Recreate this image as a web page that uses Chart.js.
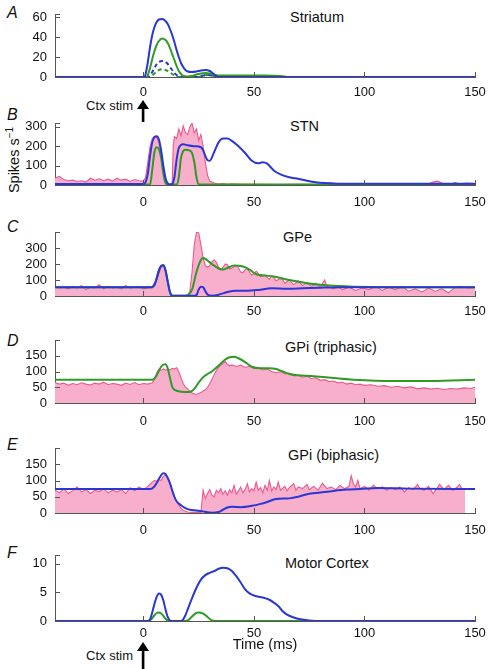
<!DOCTYPE html>
<html>
<head>
<meta charset="utf-8">
<script src="https://cdn.jsdelivr.net/npm/chart.js@4.4.0/dist/chart.umd.min.js"></script>
<style>
  body { margin: 0; background: #fff; }
  #page { position: relative; width: 488px; height: 669px; overflow: hidden;
          font-family: "Liberation Sans", Arial, sans-serif; color: #111; }
  #page canvas { position: absolute; left: 0; }
  .lbl { position: absolute; white-space: nowrap; line-height: 1; }
  .letter { font-size: 16px; font-style: italic; left: 7px; }
  .title { font-size: 14.5px; }
  .stim { font-size: 13px; text-align: right; width: 60px; left: 73px; }
  .ylab { font-size: 14.5px; transform: translate(-50%, -50%) rotate(-90deg); left: 13px; top: 160px; }
  svg { position: absolute; }
</style>
</head>
<body>
<div id="page">
  <div class="lbl letter" style="top:5px">A</div>
  <div class="lbl letter" style="top:107px">B</div>
  <div class="lbl letter" style="top:219px">C</div>
  <div class="lbl letter" style="top:333px">D</div>
  <div class="lbl letter" style="top:437px">E</div>
  <div class="lbl letter" style="top:545px">F</div>

  <div class="lbl title" style="left:290px;top:10px">Striatum</div>
  <div class="lbl title" style="left:290px;top:119px">STN</div>
  <div class="lbl title" style="left:283px;top:230px">GPe</div>
  <div class="lbl title" style="left:285px;top:340px">GPi (triphasic)</div>
  <div class="lbl title" style="left:288px;top:448px">GPi (biphasic)</div>
  <div class="lbl title" style="left:285px;top:556px">Motor Cortex</div>

  <div class="lbl ylab">Spikes s<sup style="font-size:10px">−1</sup></div>

  <div class="lbl stim" style="top:99px">Ctx stim</div>
  <svg style="left:136px;top:100px" width="14" height="22">
    <polygon points="7,0 1,9 13,9" fill="#000"/>
    <rect x="5.8" y="8" width="2.6" height="14" fill="#000"/>
  </svg>
  <div class="lbl stim" style="top:649px">Ctx stim</div>
  <svg style="left:136px;top:642px" width="14" height="27">
    <polygon points="7,0 1,9 13,9" fill="#000"/>
    <rect x="5.8" y="8" width="2.6" height="19" fill="#000"/>
  </svg>
</div>

<script>
// time axis
const timeTicks = [0, 50, 100, 150];

// A  Striatum
const strYTicks = [0, 20, 40, 60];
const strBlueT = [-40, 0.5, 1, 2, 3, 4, 5, 6, 7, 8.5, 10, 11, 12, 13, 14, 15, 16, 17, 18, 19, 20, 22, 24, 26, 28, 30, 31, 32, 33, 34, 150];
const strBlueV = [0, 0, 3, 15, 30, 42, 50, 55, 57.5, 58, 56, 53, 48, 42, 35, 27, 20, 14, 10, 7, 5.5, 5, 5.5, 6.5, 7, 6, 4.5, 2.5, 1, 0, 0];
const strGreenT = [-40, 1.5, 2, 3, 4, 5, 6, 7, 8.5, 10, 11, 12, 13, 14, 15, 16, 17, 18, 20, 22, 24, 26, 28, 30, 32, 34, 36, 45, 55, 62, 66, 150];
const strGreenV = [0, 0, 2, 9, 18, 26, 32, 36, 38.5, 37, 34, 29, 23, 17, 11, 6, 3, 1, 0.5, 1, 2.5, 3.5, 4, 3.5, 2.5, 1.5, 1.5, 1.5, 1.5, 1, 0, 0];
const strBlueDashT = [-40, 2, 3, 4, 5, 6, 7, 8.5, 10, 11, 12, 13, 14, 15, 16.5, 25, 27, 29, 31, 33, 150];
const strBlueDashV = [0, 0, 1.5, 5, 9, 13, 15, 16, 15, 13, 10, 7, 4, 2, 0, 0, 1.5, 2, 1.5, 0, 0];
const strGreenDashT = [-40, 2.5, 3.5, 5, 6, 7, 8.5, 10, 11, 12, 13, 14, 15, 25, 27, 29, 31, 33, 150];
const strGreenDashV = [0, 0, 1, 3.5, 5.5, 7, 7.7, 7, 6, 4.5, 3, 1.5, 0, 0, 1.5, 2, 1.5, 0, 0];

// B  STN
const stnYTicks = [0, 100, 200, 300];
const stnBlueT = [-40, 0, 1, 2, 3, 4, 5, 6, 7, 8, 9, 10, 11, 12, 13, 14, 15, 16, 18, 20, 23, 26, 27, 28, 29, 30, 32, 34, 36, 38, 40, 43, 46, 49, 52, 54, 56, 59, 62, 66, 70, 74, 78, 82, 88, 95, 150];
const stnBlueV = [5, 5, 15, 60, 150, 220, 248, 252, 235, 180, 100, 35, 8, 3, 5, 40, 130, 190, 210, 205, 200, 195, 180, 150, 128, 125, 170, 220, 240, 240, 228, 200, 165, 125, 112, 118, 110, 75, 55, 40, 32, 22, 14, 10, 7, 6, 6];
const stnGreenT = [-40, 3, 4, 5, 6, 7, 8, 9, 10, 11, 15, 16, 17, 18, 19, 21, 22, 23, 24, 25, 150];
const stnGreenV = [2, 2, 80, 170, 195, 185, 140, 60, 10, 2, 2, 40, 140, 175, 182, 178, 165, 120, 40, 3, 3];
const stnPinkT = [-40, -38, -36, -34, -32, -30, -28, -26, -24, -22, -20, -18, -16, -14, -12, -10, -8, -6, -4, -2, 0,
  1, 2, 3, 4, 5, 6, 7, 8, 9, 10, 11, 12, 13, 13.5, 14, 15, 16, 17, 18, 19, 20, 21, 22, 23, 24, 25, 26, 27, 28, 29, 30,
  32, 34, 36, 38, 40, 45, 50, 60, 70, 80, 90, 100, 110, 120, 128, 131, 133, 135, 138, 141, 143, 146, 150];
const stnPinkV = [35, 45, 28, 22, 25, 18, 22, 15, 35, 25, 32, 22, 30, 20, 35, 25, 30, 18, 28, 22, 20,
  40, 120, 200, 240, 250, 245, 220, 150, 60, 10, 2, 2, 10, 200, 250, 240, 290, 255, 305, 270, 260, 300, 320, 270, 290, 230, 260, 200, 120, 50, 20,
  10, 5, 8, 4, 6, 3, 4, 2, 3, 2, 3, 2, 3, 2, 3, 15, 20, 10, 3, 12, 5, 10, 8];

// C  GPe
const gpeYTicks = [0, 100, 200, 300];
const gpeBlueT = [-40, 4, 5, 6, 7, 8, 9, 10, 11, 12, 13, 23, 24, 25, 26, 27, 28, 29, 31, 34, 38, 42, 47, 52, 58, 65, 72, 80, 90, 150];
const gpeBlueV = [55, 55, 70, 110, 160, 188, 192, 160, 90, 25, 2, 2, 5, 40, 58, 55, 30, 10, 2, 8, 25, 33, 33, 38, 48, 45, 48, 52, 55, 55];
const gpeGreenT = [-40, 4, 5, 6, 7, 8, 9, 10, 11, 12, 13, 19, 20, 22, 24, 26, 27, 28, 30, 32, 34, 36, 38, 41, 45, 48, 51, 55, 59, 66, 74, 81, 88, 95, 110, 150];
const gpeGreenV = [55, 55, 70, 110, 160, 188, 192, 160, 90, 25, 2, 2, 5, 40, 150, 225, 237, 232, 210, 190, 172, 165, 175, 190, 184, 165, 136, 128, 122, 100, 80, 69, 62, 58, 55, 55];
const gpePinkT = [-40, -38, -36, -34, -32, -30, -28, -26, -24, -22, -20, -18, -16, -14, -12, -10, -8, -6, -4, -2, 0,
  2, 4, 6, 8, 9, 10, 11, 12, 13,
  20, 21, 22, 23, 24, 25, 26, 27, 28, 29, 30, 31, 32, 33, 34, 35, 36, 37, 38, 39, 40,
  42, 43, 44, 45, 46, 47, 48, 49, 50, 51, 52, 53, 55, 56, 57, 58, 59, 60, 62, 63, 64, 66, 67, 68,
  70, 72, 74, 76, 78, 80, 82, 83, 86, 88, 90,
  93, 96, 99, 102, 105, 108, 111, 114, 117, 120, 123, 126, 129, 132, 135, 138, 141, 144, 147, 150];
const gpePinkV = [60, 50, 55, 45, 60, 50, 65, 40, 55, 50, 70, 45, 60, 50, 55, 45, 65, 50, 55, 60, 45,
  50, 60, 100, 180, 190, 160, 90, 25, 2,
  2, 30, 150, 320, 400, 395, 320, 240, 190, 180, 190, 215, 225, 210, 180, 165, 180, 200, 195, 170, 175,
  190, 175, 150, 145, 165, 170, 150, 130, 140, 155, 140, 120, 130, 115, 105, 125, 115, 95, 110, 100, 80, 100, 85, 70,
  95, 65, 85, 60, 80, 55, 100, 60, 45, 60, 40,
  55, 35, 50, 40, 60, 35, 55, 40, 60, 30, 45, 25, 50, 30, 45, 20, 55, 60, 50, 55];

// D  GPi (triphasic)
const triYTicks = [0, 50, 100, 150];
const triGreenT = [-40, 4, 5, 6, 7, 8, 9, 10, 11, 12, 13, 14, 15, 17, 21, 23, 25, 27, 29, 31, 33, 35, 37, 39, 41, 43, 46, 49, 53, 57, 60, 63, 66, 70, 76, 85, 95, 105, 130, 150];
const triGreenV = [74, 74, 78, 88, 102, 115, 122, 123, 110, 80, 52, 42, 39, 36, 35, 45, 65, 82, 92, 100, 112, 125, 138, 145, 147, 142, 130, 115, 110, 110, 108, 100, 92, 88, 86, 80, 74, 71, 70, 74];
const triPinkT = [-40, -38, -36, -34, -32, -30, -28, -26, -24, -22, -20, -18, -16, -14, -12, -10, -8, -6, -4, -2, 0,
  2, 4, 5, 6, 7, 8, 9, 10, 11, 12, 13, 14, 15, 16, 17, 18, 19, 20, 21, 22, 23, 24, 25, 26, 27, 28, 29, 30, 31, 32, 33, 34, 35, 36, 37, 38, 39, 40,
  42, 44, 46, 48, 50, 52, 54, 56, 58, 60, 62, 64, 66, 68, 70, 72, 74, 76, 78, 80, 82, 84, 86, 88, 90, 92, 94, 96, 98, 100,
  103, 106, 109, 112, 115, 118, 121, 124, 127, 130, 133, 136, 139, 142, 145, 148, 150];
const triPinkV = [65, 60, 63, 56, 62, 58, 64, 60, 57, 63, 60, 66, 58, 62, 60, 56, 63, 59, 65, 58, 62,
  60, 64, 75, 95, 107, 104, 108, 104, 107, 105, 110, 108, 112, 100, 80, 62, 50, 45, 38, 32, 29, 28, 30, 33, 38, 42, 50, 62, 75, 90, 103, 113, 120, 125, 132, 122, 118, 121,
  116, 120, 113, 117, 110, 112, 105, 108, 100, 96, 100, 92, 95, 86, 88, 82, 85, 78, 80, 72, 74, 68, 70, 64, 66, 60, 63, 58, 60, 56,
  58, 53, 55, 50, 53, 48, 51, 45, 48, 44, 47, 43, 46, 44, 48, 46, 50];

// E  GPi (biphasic)
const biYTicks = [0, 50, 100, 150];
const biBlueT = [-40, 3, 4, 5, 6, 7, 8, 9, 10, 11, 12, 13, 14, 15, 17, 19, 21, 24, 27, 29, 31, 34, 36, 38, 40, 44, 49, 53, 56, 60, 66, 70, 74, 80, 86, 92, 98, 106, 120, 150];
const biBlueV = [74, 74, 76, 82, 92, 105, 116, 122, 120, 108, 92, 70, 50, 36, 24, 15, 10, 8, 5, 2, 1, 3, 10, 17, 19, 18, 22, 28, 34, 43, 45, 50, 58, 63, 68, 72, 74, 77, 75, 74];
const biPinkT = [-40, -38, -36, -34, -32, -30, -28, -26, -24, -22, -20, -18, -16, -14, -12, -10, -8, -6, -4, -2, 0,
  2, 4, 5, 6, 7, 8, 9, 10, 11, 12, 13, 14, 15, 16, 17, 18, 20, 22, 24, 26,
  27, 28, 29, 30, 31, 32, 33, 34, 35, 36, 37, 38, 39, 40, 41, 42, 43, 44, 45, 46, 47, 48, 49, 50, 51, 52, 53, 54, 55, 56, 57, 58, 59, 60, 61, 62,
  64, 65, 66, 68, 69, 70, 72, 74, 75, 77, 79, 81, 83, 85, 87, 89, 91, 93, 94, 95, 96, 97, 98, 100,
  102, 104, 106, 108, 110, 112, 114, 116, 118, 120, 122, 124, 125, 127, 129, 131, 133, 134, 136, 138, 140, 142, 143, 144, 145.5];
const biPinkV = [70, 62, 75, 60, 68, 80, 65, 72, 60, 70, 66, 75, 62, 70, 65, 72, 60, 78, 68, 80, 72,
  82, 95, 100, 98, 103, 100, 112, 118, 105, 90, 70, 50, 36, 24, 15, 8, 3, 2, 2, 2,
  70, 45, 60, 72, 55, 50, 70, 62, 75, 58, 68, 55, 72, 62, 85, 58, 68, 80, 62, 72, 90, 65, 75, 68, 95, 70, 78, 62, 85, 70, 100, 68, 80, 72, 95, 70,
  82, 68, 78, 90, 70, 80, 75, 88, 72, 82, 70, 92, 75, 80, 72, 85, 75, 82, 115, 90, 80, 100, 75, 82,
  70, 85, 74, 80, 70, 78, 72, 80, 65, 78, 72, 88, 75, 70, 82, 60, 78, 88, 72, 85, 70, 80, 88, 75, 72];

// F  Motor Cortex
const ctxYTicks = [0, 5, 10];
const ctxBlueT = [-40, 2, 3, 4, 5, 6, 7, 8, 9, 10, 11, 12, 13, 17, 18, 19, 20, 22, 24, 26, 28, 30, 32, 34, 36, 38, 40, 42, 44, 46, 48, 51, 54, 57, 59, 61, 63, 65, 68, 71, 75, 80, 150];
const ctxBlueV = [0, 0, 0.3, 1.5, 3.0, 4.2, 4.8, 4.6, 3.6, 2.0, 0.7, 0.1, 0, 0, 0.3, 1.0, 2.0, 4.0, 5.8, 7.2, 8.0, 8.4, 8.7, 9.1, 9.3, 9.2, 8.7, 7.8, 6.7, 5.5, 4.8, 4.3, 4.1, 3.7, 3.2, 2.6, 1.7, 1.1, 0.6, 0.3, 0.1, 0, 0];
const ctxGreenT = [-40, 2, 3, 4, 5, 6, 7, 8, 9, 10, 11, 12, 19, 20, 21, 22, 24, 25, 26, 27, 29, 30, 31, 32, 150];
const ctxGreenV = [0, 0, 0.1, 0.5, 1.0, 1.4, 1.5, 1.3, 0.9, 0.4, 0.1, 0, 0, 0.1, 0.4, 0.8, 1.4, 1.5, 1.45, 1.3, 0.7, 0.35, 0.1, 0, 0];

const BLUE = '#2a36d6', GREEN = '#2f9a26', PINK = '#ec5a8b', PINK_FILL = '#f8afcb', AXIS = '#555';
const FONT = 'Liberation Sans';

function pts(t, v) { return t.map((x, i) => ({x: x, y: v[i]})); }

function smooth(t, v, color, dash) {
    return {data: pts(t, v), borderColor: color, borderWidth: 2, borderDash: dash || [],
        pointRadius: 0, cubicInterpolationMode: 'monotone', fill: false};
}

function noisy(t, v) {
    return {data: pts(t, v), borderColor: PINK, backgroundColor: PINK_FILL, borderWidth: 1.1,
        pointRadius: 0, tension: 0, fill: 'origin'};
}

// small tick marks pointing into the plot
const innerTicks = {
    id: 'innerTicks',
    afterDatasetsDraw(chart) {
        const {ctx, chartArea: a, scales: {x, y}} = chart;
        ctx.save();
        ctx.strokeStyle = AXIS;
        ctx.lineWidth = 1;
        ctx.beginPath();
        x.ticks.forEach(t => {
            const p = Math.round(x.getPixelForValue(t.value)) + 0.5;
            ctx.moveTo(p, a.bottom); ctx.lineTo(p, a.bottom - 5);
        });
        y.ticks.map(t => t.value).concat([y.max]).forEach(v => {
            const p = Math.round(y.getPixelForValue(v)) + 0.5;
            ctx.moveTo(a.left, p); ctx.lineTo(a.left + 5, p);
        });
        ctx.stroke();
        ctx.restore();
    }
};

function panel(top, bottom, yMax, yTicks, xPad, datasets, xTitle) {
    const padTop = 8;
    const axisH = xTitle ? 40 : 24;
    const cv = document.createElement('canvas');
    cv.width = 488;
    cv.height = bottom - top + padTop + axisH;
    cv.style.top = (top - padTop) + 'px';
    document.getElementById('page').appendChild(cv);

    new Chart(cv, {
        type: 'line',
        data: {datasets: datasets},
        options: {
            responsive: false,
            animation: false,
            devicePixelRatio: 1,
            layout: {padding: {top: padTop, right: 13, left: 0, bottom: 0}},
            plugins: {legend: {display: false}, tooltip: {enabled: false}},
            scales: {
                x: {
                    type: 'linear', min: -40, max: 150,
                    grid: {display: false, drawTicks: false},
                    border: {color: AXIS, width: 1},
                    afterBuildTicks: s => { s.ticks = timeTicks.map(v => ({value: v})); },
                    afterFit: s => { s.height = axisH; s.paddingLeft = 0; s.paddingRight = 0; },
                    ticks: {padding: xPad, color: '#111', font: {family: FONT, size: 13}},
                    title: {display: !!xTitle, text: xTitle || '', color: '#111',
                        font: {family: FONT, size: 14.5}, padding: {top: 0, bottom: 7}}
                },
                y: {
                    type: 'linear', min: 0, max: yMax,
                    grid: {display: false, drawTicks: false},
                    border: {color: AXIS, width: 1},
                    afterBuildTicks: s => { s.ticks = yTicks.map(v => ({value: v})); },
                    afterFit: s => { s.width = 55; s.paddingTop = 0; s.paddingBottom = 0; },
                    ticks: {padding: 8, color: '#111', font: {family: FONT, size: 13}}
                }
            }
        },
        plugins: [innerTicks]
    });
}

// first dataset is drawn on top
panel(14, 77, 63, strYTicks, 8, [
    smooth(strBlueT, strBlueV, BLUE),
    smooth(strGreenT, strGreenV, GREEN),
    smooth(strBlueDashT, strBlueDashV, BLUE, [4, 3]),
    smooth(strGreenDashT, strGreenDashV, GREEN, [4, 3])
]);
panel(123, 185, 320, stnYTicks, 10, [
    smooth(stnBlueT, stnBlueV, BLUE),
    smooth(stnGreenT, stnGreenV, GREEN),
    noisy(stnPinkT, stnPinkV)
]);
panel(232, 296, 400, gpeYTicks, 8, [
    smooth(gpeBlueT, gpeBlueV, BLUE),
    smooth(gpeGreenT, gpeGreenV, GREEN),
    noisy(gpePinkT, gpePinkV)
]);
panel(340, 403, 200, triYTicks, 11, [
    smooth(triGreenT, triGreenV, GREEN),
    noisy(triPinkT, triPinkV)
]);
panel(448, 513, 200, biYTicks, 10, [
    smooth(biBlueT, biBlueV, BLUE),
    noisy(biPinkT, biPinkV)
]);
panel(555, 621, 11.5, ctxYTicks, 5, [
    smooth(ctxBlueT, ctxBlueV, BLUE),
    smooth(ctxGreenT, ctxGreenV, GREEN)
], 'Time (ms)');
</script>
</body>
</html>
